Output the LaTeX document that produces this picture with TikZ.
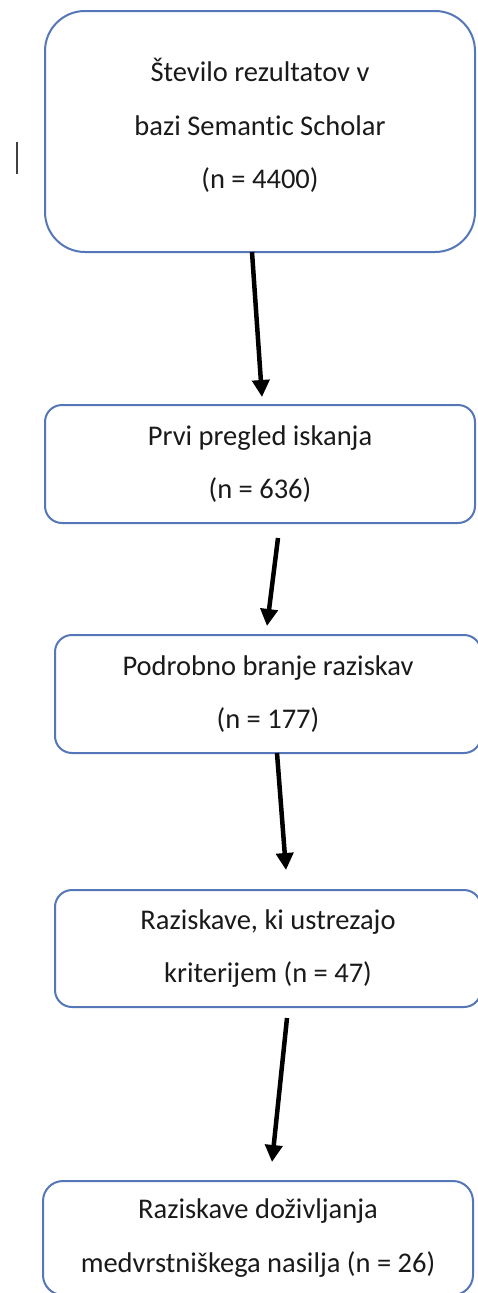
\documentclass[tikz,border=0pt]{standalone}
\usepackage{fontspec}
\setmainfont[Ligatures={NoCommon}]{Carlito}
\usetikzlibrary{arrows.meta,calc}
\definecolor{boxblue}{HTML}{5577B8}
\definecolor{txt}{HTML}{1A1A1A}
\begin{document}
\begin{tikzpicture}[x=1pt,y=-1pt,
  flowbox/.style={draw=boxblue,line width=2pt,fill=white,text=txt,align=center,
    font=\fontsize{28.5}{53.5}\selectfont,inner sep=0pt,outer sep=0pt},
  arr/.style={line width=4.5pt,-{Triangle[width=17pt,length=17pt]},black}]
\useasboundingbox[fill=white] (0,0) rectangle (478,1293);
\node[flowbox,rounded corners=40pt,minimum width=430pt,minimum height=241pt] (b1) at (260,131.5)
  {Število rezultatov v\\bazi Semantic Scholar\\(n = 4400)\rule[-16pt]{0pt}{1pt}};
\node[flowbox,rounded corners=17pt,minimum width=430pt,minimum height=118pt] (b2) at (260,464)
  {Prvi pregled iskanja\\(n = 636)};
\node[flowbox,rounded corners=17pt,minimum width=426pt,minimum height=118pt] (b3) at (268,694)
  {Podrobno branje raziskav\\(n = 177)};
\node[flowbox,rounded corners=17pt,minimum width=426pt,minimum height=117pt] (b4) at (268,948.5)
  {Raziskave, ki ustrezajo\\kriterijem (n = 47)};
\node[flowbox,rounded corners=20pt,minimum width=430pt,minimum height=114pt] (b5) at (258,1238)
  {Raziskave doživljanja\\medvrstniškega nasilja (n = 26)};
\coordinate (curA) at (17,142);
\coordinate (curB) at (17,174);
\draw[line width=2pt,black!75] (curA) -- (curB);
\draw[arr] ([xshift=-8pt]b1.south) -- ([xshift=2pt,yshift=8pt]b2.north);
\draw[arr] ([xshift=18pt,yshift=-15pt]b2.south) -- ([xshift=-1pt,yshift=9pt]b3.north);
\draw[arr] ([xshift=9pt]b3.south) -- ([xshift=18pt,yshift=20pt]b4.north);
\draw[arr] ([xshift=19pt,yshift=-11pt]b4.south) -- ([xshift=14pt,yshift=19pt]b5.north);
\end{tikzpicture}
\end{document}
